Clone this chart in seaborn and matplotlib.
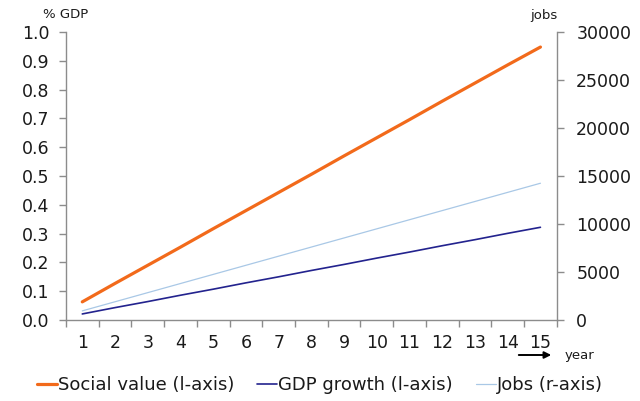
import matplotlib
matplotlib.use("Agg")
import matplotlib.pyplot as plt
from matplotlib.ticker import FixedLocator, NullFormatter
from matplotlib.lines import Line2D
import seaborn as sns
import pandas as pd

years = list(range(1, 16))
social_value = [0.063, 0.127, 0.190, 0.253, 0.317, 0.380, 0.443, 0.506,
                0.570, 0.633, 0.696, 0.760, 0.823, 0.886, 0.948]
gdp_growth = [0.021, 0.043, 0.064, 0.086, 0.107, 0.129, 0.150, 0.172,
              0.193, 0.215, 0.236, 0.258, 0.279, 0.301, 0.322]
jobs = [950, 1900, 2850, 3800, 4750, 5700, 6650, 7600,
        8550, 9500, 10450, 11400, 12350, 13300, 14250]

left_ticks = [0.0, 0.1, 0.2, 0.3, 0.4, 0.5, 0.6, 0.7, 0.8, 0.9, 1.0]
right_ticks = [0, 5000, 10000, 15000, 20000, 25000, 30000]

df = pd.DataFrame({"year": years, "social": social_value,
                   "gdp": gdp_growth, "jobs": jobs})

sns.set_style("ticks")
plt.rcParams["font.family"] = ["DejaVu Sans"]

C_SOCIAL = "#F26A1B"
C_GDP = "#23238E"
C_JOBS = "#A9C8E6"
SPINE = "#8C8C8C"
TXT = "#1A1A1A"

fig = plt.figure(figsize=(6.4, 4.01), dpi=100)
ax = fig.add_axes([0.103, 0.202, 0.767, 0.718])
ax2 = ax.twinx()

sns.lineplot(data=df, x="year", y="social", ax=ax, color=C_SOCIAL, lw=2.3)
sns.lineplot(data=df, x="year", y="gdp", ax=ax, color=C_GDP, lw=1.2)
sns.lineplot(data=df, x="year", y="jobs", ax=ax2, color=C_JOBS, lw=0.9)

ax.set_xlim(0.5, 15.5)
ax.set_ylim(0, 1.0)
ax2.set_ylim(0, 30000)

ax.set_xlabel("")
ax.set_ylabel("")
ax2.set_ylabel("")

ax.set_yticks(left_ticks)
ax.set_yticklabels([f"{v:.1f}" for v in left_ticks])
ax2.set_yticks(right_ticks)
ax2.set_yticklabels([str(v) for v in right_ticks])

ax.set_xticks(years)
ax.set_xticklabels([str(y) for y in years])
ax.xaxis.set_minor_locator(FixedLocator([y + 0.5 for y in [0] + years]))
ax.xaxis.set_minor_formatter(NullFormatter())
ax.tick_params(axis="x", which="major", length=0, pad=10, labelsize=12.5,
               colors=TXT)
ax.tick_params(axis="x", which="minor", length=5, direction="out",
               color=SPINE, width=1)
ax.tick_params(axis="y", length=5, direction="out", color=SPINE, width=1,
               pad=7, labelsize=12.5, labelcolor=TXT)
ax2.tick_params(axis="y", length=5, direction="out", color=SPINE, width=1,
                pad=9, labelsize=12.5, labelcolor=TXT)

for a in (ax, ax2):
    a.spines["top"].set_visible(False)
    for s in ("left", "right", "bottom"):
        a.spines[s].set_color(SPINE)
        a.spines[s].set_linewidth(1)
ax.spines["right"].set_visible(False)
ax2.spines["left"].set_visible(False)
ax2.spines["bottom"].set_visible(False)

# axis captions
fig.text(43 / 640, 1 - 15 / 401, "% GDP", fontsize=9.5, va="center",
         ha="left", color=TXT)
fig.text(530 / 640, 1 - 16 / 401, "jobs", fontsize=9.5, va="center",
         ha="left", color=TXT)
fig.text(565 / 640, 1 - 355 / 401, "year", fontsize=9.5, va="center",
         ha="left", color=TXT)
fig.add_artist(matplotlib.patches.FancyArrowPatch(
    (516 / 640, 1 - 355 / 401), (554 / 640, 1 - 355 / 401),
    transform=fig.transFigure, arrowstyle="-|>", mutation_scale=10,
    color="black", lw=1.4))

handles = [Line2D([], [], color=C_SOCIAL, lw=2.3),
           Line2D([], [], color=C_GDP, lw=1.2),
           Line2D([], [], color=C_JOBS, lw=0.9)]
labels = ["Social value (l-axis)", "GDP growth (l-axis)", "Jobs (r-axis)"]
fig.legend(handles, labels, loc="center", bbox_to_anchor=(0.5, 1 - 385 / 401),
           ncol=3, frameon=False, fontsize=13, handlelength=1.1,
           handletextpad=0.05, columnspacing=1.3, labelcolor=TXT)

fig.savefig("out.png", dpi=100)
